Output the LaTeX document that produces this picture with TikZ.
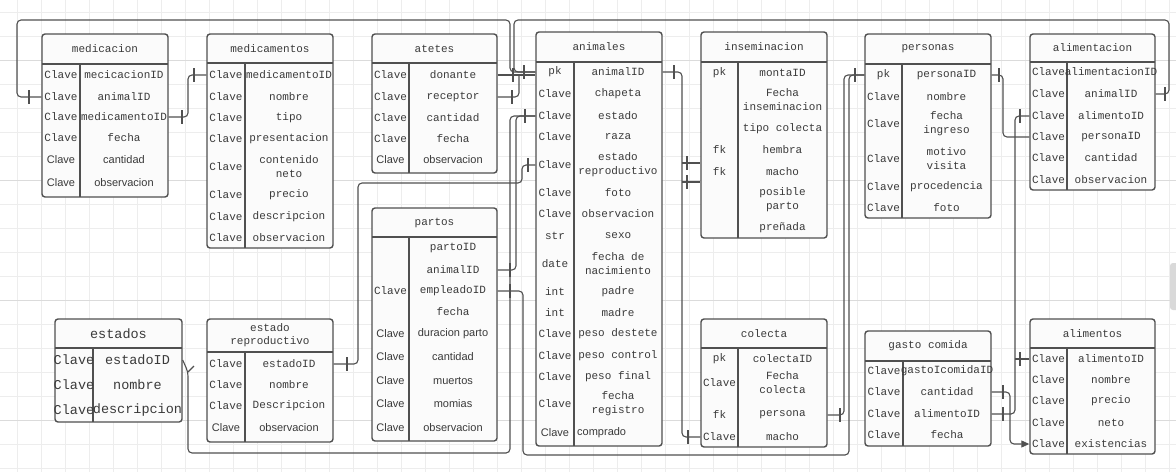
\documentclass[tikz,border=0pt]{standalone}
\usepackage{fontspec}
\setmonofont{Liberation Mono}
\setsansfont{Liberation Sans}
\usepackage{tikz}
\usetikzlibrary{arrows.meta,fit}
\definecolor{linec}{HTML}{505050}
\definecolor{txtc}{HTML}{3A3A3A}
\definecolor{tblc}{HTML}{FBFBFB}
\newcommand{\onetick}[1]{\draw[conn] (#1) ++(0,-7) -- ++(0,14);}

\begin{document}
\begin{tikzpicture}[x=1pt,y=-1pt,font=\ttfamily\fontsize{11}{14}\selectfont,
  tbl/.style={draw=linec,fill=tblc,line width=1.4pt,rounded corners=3pt,inner sep=0pt},
  rule/.style={draw=linec,line width=1.3pt},
  cell/.style={text=txtc,inner sep=0pt,align=center},
  big/.style={font=\ttfamily\fontsize{13.5}{15}\selectfont},
  conn/.style={draw=linec,line width=1.1pt,rounded corners=4pt},
  gridl/.style={draw=black!7,line width=0.6pt},
  gridm/.style={draw=black!14,line width=0.7pt}]
\fill[white] (0,0) rectangle (1176,472);
\useasboundingbox (0,0) rectangle (1176,472);
% grid
\foreach \x in {17,41,...,1176} \draw[gridl] (\x,0) -- (\x,472);
\foreach \y in {12,36,...,472} \draw[gridl] (0,\y) -- (1176,\y);
\foreach \y in {60,180,300,420} \draw[gridm] (0,\y) -- (1176,\y);
\fill[black!15,rounded corners=3pt] (1170,263) rectangle (1182,310);

% medicacion
\node[tbl,fit={(42,34) (168,197)}] (medi) {};
\draw[rule] (42,64) -- (168,64) (80,64) -- (80,197);
\node[cell] (medi-h) at (105,49) {medicacion};
\foreach \y/\k/\v [count=\i] in {75/Clave/mecicacionID,97/Clave/animalID,117/Clave/medicamentoID,138/Clave/fecha,
  160/\sffamily Clave/\sffamily cantidad,183/\sffamily Clave/\sffamily observacion}
  {\node[cell] (medi-k\i) at (61,\y) {\k}; \node[cell] (medi-v\i) at (124,\y) {\v};}

% medicamentos
\node[tbl,fit={(207,34) (333,248)}] (medc) {};
\draw[rule] (207,63) -- (333,63) (245,63) -- (245,248);
\node[cell] (medc-h) at (270,48.5) {medicamentos};
\foreach \y/\k/\v [count=\i] in {75/Clave/medicamentoID,97/Clave/nombre,118/Clave/tipo,139/Clave/presentacion,
  167/Clave/{contenido\\neto},195/Clave/precio,217/Clave/descripcion,238/Clave/observacion}
  {\node[cell] (medc-k\i) at (226,\y) {\k}; \node[cell] (medc-v\i) at (289,\y) {\v};}

% atetes
\node[tbl,fit={(372,34) (497,173)}] (atet) {};
\draw[rule] (372,63) -- (497,63) (409,63) -- (409,173);
\node[cell] (atet-h) at (434.5,48.5) {atetes};
\foreach \y/\k/\v [count=\i] in {75/Clave/donante,97/Clave/receptor,118/Clave/cantidad,139/Clave/fecha,
  160/\sffamily Clave/\sffamily observacion}
  {\node[cell] (atet-k\i) at (390.5,\y) {\k}; \node[cell] (atet-v\i) at (453,\y) {\v};}

% partos
\node[tbl,fit={(372,208) (497,441)}] (part) {};
\draw[rule] (372,237) -- (497,237) (409,237) -- (409,441);
\node[cell] (part-h) at (434.5,222.5) {partos};
\foreach \y/\k/\v [count=\i] in {248//partoID,270//animalID,291/Clave/empleadoID,312//fecha,
  334/\sffamily Clave/\sffamily duracion parto,357/\sffamily Clave/\sffamily cantidad,381/\sffamily Clave/\sffamily muertos,
  404/\sffamily Clave/\sffamily momias,428/\sffamily Clave/\sffamily observacion}
  {\node[cell] (part-k\i) at (390.5,\y) {\k}; \node[cell] (part-v\i) at (453,\y) {\v};}

% animales
\node[tbl,fit={(536,32) (662,446)}] (anim) {};
\draw[rule] (536,62) -- (662,62) (574,62) -- (574,446);
\node[cell] (anim-h) at (599,47) {animales};
\foreach \y/\k/\v [count=\i] in {72/pk/animalID,94/Clave/chapeta,116/Clave/estado,137/Clave/raza,
  165/Clave/{estado\\reproductivo},193/Clave/foto,214/Clave/observacion,236/str/sexo,264/date/{fecha de\\nacimiento},
  292/int/padre,313/int/madre,334/Clave/peso destete,356/Clave/peso control,377/Clave/peso final,404/Clave/{fecha\\registro}}
  {\node[cell] (anim-k\i) at (555,\y) {\k}; \node[cell] (anim-v\i) at (618,\y) {\v};}
\node[cell] (anim-k16) at (555,433) {\sffamily Clave};
\node[cell,anchor=west] (anim-v16) at (577,433) {\sffamily comprado};

% inseminacion
\node[tbl,fit={(701,32) (827,238)}] (inse) {};
\draw[rule] (701,62) -- (827,62) (738,62) -- (738,238);
\node[cell] (inse-h) at (764,47) {inseminacion};
\foreach \y/\k/\v [count=\i] in {73/pk/montaID,100//{Fecha\\inseminacion},129//tipo colecta,150/fk/hembra,
  172/fk/macho,200//{posible\\parto},228//preñada}
  {\node[cell] (inse-k\i) at (719.5,\y) {\k}; \node[cell] (inse-v\i) at (782.5,\y) {\v};}

% colecta
\node[tbl,fit={(701,319) (827,447)}] (cole) {};
\draw[rule] (701,348) -- (827,348) (738,348) -- (738,447);
\node[cell] (cole-h) at (764,333.5) {colecta};
\foreach \y/\k/\v [count=\i] in {359/pk/colectaID,383/Clave/{Fecha\\colecta},415/fk/persona,437/Clave/macho}
  {\node[cell] (cole-k\i) at (719.5,\y) {\k}; \node[cell] (cole-v\i) at (782.5,\y) {\v};}

% personas
\node[tbl,fit={(865,34) (991,218)}] (pers) {};
\draw[rule] (865,64) -- (991,64) (902,64) -- (902,218);
\node[cell] (pers-h) at (928,49) {personas};
\foreach \y/\k/\v [count=\i] in {75/pk/personaID,97/Clave/nombre,124/Clave/{fecha\\ingreso},159/Clave/{motivo\\visita},
  187/Clave/procedencia,208/Clave/foto}
  {\node[cell] (pers-k\i) at (883.5,\y) {\k}; \node[cell] (pers-v\i) at (946.5,\y) {\v};}

% gasto comida
\node[tbl,fit={(865,331) (991,446)}] (gast) {};
\draw[rule] (865,361) -- (991,361) (903,361) -- (903,446);
\node[cell] (gast-h) at (928,346) {gasto comida};
\foreach \y/\k/\v [count=\i] in {371/Clave/gastoIcomidaID,392/Clave/cantidad,414/Clave/alimentoID,435/Clave/fecha}
  {\node[cell] (gast-k\i) at (884,\y) {\k}; \node[cell] (gast-v\i) at (947,\y) {\v};}

% alimentacion
\node[tbl,fit={(1030,34) (1155,190)}] (alim) {};
\draw[rule] (1030,62) -- (1155,62) (1067,62) -- (1067,190);
\node[cell] (alim-h) at (1092.5,48) {alimentacion};
\foreach \y/\k/\v [count=\i] in {72/Clave/alimentacionID,94/Clave/animalID,116/Clave/alimentoID,137/Clave/personaID,
  158/Clave/cantidad,180/Clave/observacion}
  {\node[cell] (alim-k\i) at (1048.5,\y) {\k}; \node[cell] (alim-v\i) at (1111,\y) {\v};}

% alimentos
\node[tbl,fit={(1030,319) (1155,454)}] (alims) {};
\draw[rule] (1030,348) -- (1155,348) (1067,348) -- (1067,454);
\node[cell] (alims-h) at (1092.5,333.5) {alimentos};
\foreach \y/\k/\v [count=\i] in {359/Clave/alimentoID,380/Clave/nombre,401/Clave/precio,423/Clave/neto,444/Clave/existencias}
  {\node[cell] (alims-k\i) at (1048.5,\y) {\k}; \node[cell] (alims-v\i) at (1111,\y) {\v};}

% estados
\node[tbl,fit={(55,319) (182,422)}] (esta) {};
\draw[rule] (55,348) -- (182,348) (93,348) -- (93,422);
\node[cell,big] (esta-h) at (118.5,333.5) {estados};
\foreach \y/\k/\v [count=\i] in {360/Clave/estadoID,385/Clave/nombre,410/Clave/descripcion}
  {\node[cell,big] (esta-k\i) at (74,\y) {\k}; \node[cell,big] (esta-v\i) at (137.5,\y) {\v};}

% estado reproductivo
\node[tbl,fit={(207,319) (333,442)}] (erep) {};
\draw[rule] (207,352) -- (333,352) (245,352) -- (245,442);
\node[cell,font=\ttfamily\fontsize{11}{13}\selectfont] (erep-h) at (270,335.5) {estado\\reproductivo};
\foreach \y/\k/\v [count=\i] in {364/Clave/estadoID,385/Clave/nombre,406/Clave/Descripcion,
  428/\sffamily Clave/\sffamily observacion}
  {\node[cell] (erep-k\i) at (226,\y) {\k}; \node[cell] (erep-v\i) at (289,\y) {\v};}

% connectors
\coordinate (jr) at (519,75);
\coordinate (jh) at (682,163);
\coordinate (jm) at (682,182);
\coordinate (ja) at (1015,359);
\draw[conn] (medi.west |- medi-v2) -| (17,20) -| (510,72) -- (anim.west |- anim-v1);
\draw[conn] (alim.east |- alim-v2) -| (1169,20) -| (514,72) -- (anim.west |- anim-v1);
\draw[conn] (medi.east |- medi-v3) -| (188,75) -- (medc.west |- medc-v1);
\draw[conn] (atet.east |- atet-v1) -- (anim.west |- atet-v1);
\draw[conn] (atet.east |- atet-v2) -| (jr);
\draw[conn] (anim.west |- anim-v3) -| (516,270) -- (part.east |- part-v2);
\draw[conn] (esta.east |- esta-v1) -- (188,372) -- (188,453) -| (510,116) -- (anim.west |- anim-v3);
\draw[conn] (188,372) -- (194,366);
\draw[conn] (anim.west |- anim-v5) -| (522,183) -| (358,364) -- (erep.east |- erep-v1);
\draw[conn] (part.east |- part-v3) -| (523,455) -| (849,75) -- (pers.west |- pers-v1);
\draw[conn] (cole.east |- cole-v3) -| (844,75) -- (pers.west |- pers-v1);
\draw[conn] (anim.east |- anim-v1) -| (682,437) -- (cole.west |- cole-v4);
\draw[conn] (jh) -- (inse.west |- jh);
\draw[conn] (jm) -- (inse.west |- jm);
\draw[conn] (pers.east |- pers-v1) -| (1003,137) -- (alim.west |- alim-v4);
\draw[conn] (alim.west |- alim-v3) -| (1015,414) -- (gast.east |- gast-v3);
\draw[conn] (alims.west |- alims-v1) -- (ja);
\draw[conn,-{Triangle[length=8pt,width=7pt]}] (gast.east |- gast-v2) -| (1010,444) -- (alims.west |- alims-v5);

% ticks
\onetick{29,97} \onetick{182,117} \onetick{194,75}
\onetick{513,75} \onetick{512,97} \onetick{524,72} \onetick{525,116} \onetick{528,165}
\onetick{347,364} \onetick{510,270} \onetick{510,291}
\onetick{674,72} \onetick{688,437} \onetick{687,163} \onetick{687,182}
\onetick{855,75} \onetick{840,415} \onetick{999,75} \onetick{1165,94}
\onetick{1020,116} \onetick{1020,359} \onetick{1003,392} \onetick{1003,414}
\end{tikzpicture}
\end{document}
